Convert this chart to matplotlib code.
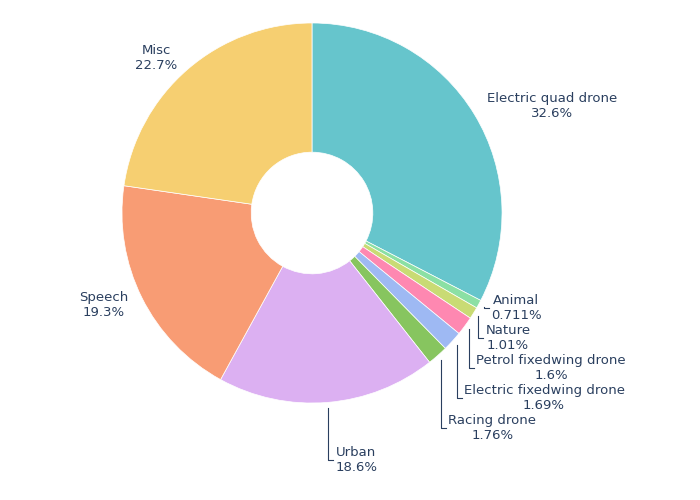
import numpy as np
import matplotlib.pyplot as plt

labels = ["Electric quad drone", "Animal", "Nature", "Petrol fixedwing drone",
          "Electric fixedwing drone", "Racing drone", "Urban", "Speech", "Misc"]
pcts = ["32.6%", "0.711%", "1.01%", "1.6%", "1.69%", "1.76%", "18.6%", "19.3%", "22.7%"]
values = [32.6, 0.711, 1.01, 1.6, 1.69, 1.76, 18.6, 19.3, 22.7]
colors = ["#66C5CC", "#8BE0A4", "#C9DB74", "#FE88B1", "#9EB9F3",
          "#87C55F", "#DCB0F2", "#F89C74", "#F6CF71"]

fig = plt.figure(figsize=(7, 5), dpi=100)
ax = fig.add_axes([0, 0, 1, 1])

cx, cy, R = 312, 287, 190
pull = 0.03
ax.pie(values, colors=colors, startangle=90, counterclock=False,
       center=(cx, cy), radius=R, explode=[pull] * len(values),
       wedgeprops=dict(width=R * 0.68, edgecolor="white", linewidth=0.5),
       normalize=True)

tc = "#2a3f5f"
fs = 9.5
total = sum(values)
cum = 0
small_i = 0
for lab, p, v in zip(labels, pcts, values):
    mid = 90 - (cum + v / 2) / total * 360
    cum += v
    a = np.radians(mid)
    ex, ey = cx + R * (1 + pull) * np.cos(a), cy + R * (1 + pull) * np.sin(a)
    txt = f"{lab}\n{p}"
    if v < 5:
        ly = 192 - small_i * 30
        ax.plot([ex, ex, ex + 5], [ey, ly, ly], color=tc, lw=0.8)
        ax.text(ex + 7, ly, txt, ha="left", va="center", fontsize=fs,
                color=tc, multialignment="center")
        small_i += 1
    elif lab == "Urban":
        ly = 40
        ax.plot([ex, ex, ex + 5], [ey, ly, ly], color=tc, lw=0.8)
        ax.text(ex + 7, ly, txt, ha="left", va="center", fontsize=fs,
                color=tc, multialignment="center")
    else:
        rr = R * 1.08
        tx, ty = cx + rr * np.cos(a), cy + rr * np.sin(a)
        ha = "left" if np.cos(a) > 0 else "right"
        ax.text(tx, ty, txt, ha=ha, va="center", fontsize=fs,
                color=tc, multialignment="center")

ax.set_xlim(0, 700)
ax.set_ylim(0, 500)
ax.set_aspect("equal")
ax.axis("off")
fig.savefig("out.png", dpi=100)
